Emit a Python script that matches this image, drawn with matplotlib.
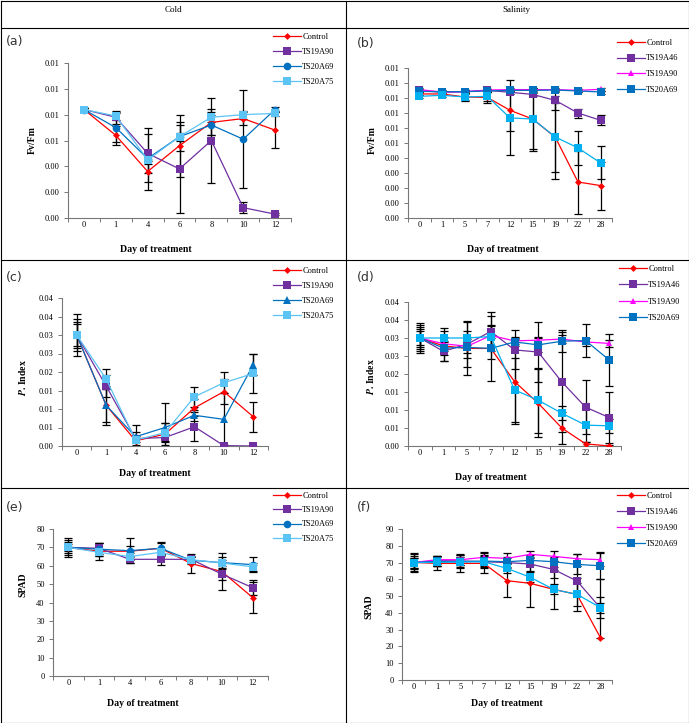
import matplotlib
matplotlib.use("Agg")
import matplotlib.pyplot as plt
from matplotlib.lines import Line2D
import numpy as np

plt.rcParams['font.family'] = ['Liberation Serif', 'DejaVu Serif']
plt.rcParams['mathtext.fontset'] = 'stix'

# ---------------- data ----------------
cold_days = ["0", "1", "4", "6", "8", "10", "12"]
salt_days = ["0", "1", "5", "7", "12", "15", "19", "22", "28"]

cold_names = ["Control", "TS19A90", "TS20A69", "TS20A75"]
salt_names = ["Control", "TS19A46", "TS19A90", "TS20A69", "TS20A75"]

# (a) Fv/Fm, cold
a_control = [0.0084, 0.0064, 0.0036, 0.0056, 0.0074, 0.0077, 0.0068]
a_ts19a90 = [0.0084, 0.0078, 0.0050, 0.0038, 0.0060, 0.0008, 0.0003]
a_ts20a69 = [0.0084, 0.0070, 0.0046, 0.0063, 0.0072, 0.0061, 0.0084]
a_ts20a75 = [0.0084, 0.0079, 0.0045, 0.0063, 0.0078, 0.0080, 0.0081]
a_control_err = [0.0001, 0.00075, 0.0008, 0.0024, 0.0010, 0.0005, 0.0014]
a_ts19a90_err = [0.0001, 0.0005, 0.0015, 0.0034, 0.0033, 0.00045, 0.0001]
a_ts20a69_err = [0.0001, 0.0011, 0.0024, 0.0011, 0.0008, 0.0038, 0.0002]
a_ts20a75_err = [0.0001, 0.0003, 0.0003, 0.0003, 0.0004, 0.0003, 0.0002]

# (b) Fv/Fm, salinity
b_control = [0.00827, 0.00827, 0.00807, 0.00804, 0.00718, 0.0066, 0.00538, 0.0024, 0.00216]
b_ts19a46 = [0.00851, 0.00838, 0.00842, 0.00851, 0.00838, 0.00824, 0.00784, 0.0070, 0.00651]
b_ts19a90 = [0.00856, 0.00840, 0.00842, 0.00853, 0.00856, 0.00856, 0.00856, 0.00851, 0.00858]
b_ts20a69 = [0.00844, 0.00842, 0.00842, 0.00847, 0.00851, 0.00851, 0.00853, 0.00847, 0.00840]
b_ts20a75 = [0.00811, 0.00818, 0.00807, 0.00811, 0.00667, 0.0066, 0.0054, 0.00467, 0.00367]
b_control_err = [0.0001, 0.0001, 0.0003, 0.0004, 0.00136, 0.0021, 0.00275, 0.0021, 0.0016]
b_ts19a46_err = [0.0001, 0.0001, 0.0001, 0.0001, 0.0001, 0.0001, 0.00067, 0.0003, 0.00033]
b_ts19a90_err = [0.0001, 0.0001, 0.0001, 0.0001, 0.0001, 0.0001, 0.0001, 0.0001, 0.0001]
b_ts20a69_err = [0.0001, 0.0001, 0.0001, 0.0001, 0.0001, 0.0001, 0.0001, 0.0001, 0.0001]
b_ts20a75_err = [0.0001, 0.0001, 0.0002, 0.0003, 0.0025, 0.0020, 0.0023, 0.00115, 0.0011]

# (c) P. Index, cold
c_control = [0.030, 0.0110, 0.0014, 0.0032, 0.0103, 0.0147, 0.0079]
c_ts19a90 = [0.030, 0.0162, 0.0020, 0.0023, 0.0052, 0.0001, 0.0000]
c_ts20a69 = [0.030, 0.0110, 0.0025, 0.0050, 0.0083, 0.0072, 0.0220]
c_ts20a75 = [0.030, 0.0181, 0.0016, 0.0036, 0.0133, 0.0171, 0.0196]
c_control_err = [0.0057, 0.0052, 0.0014, 0.0030, 0.0023, 0.0034, 0.0041]
c_ts19a90_err = [0.0043, 0.0030, 0.0018, 0.0010, 0.0039, 0.0001, 0.0001]
c_ts20a69_err = [0.0035, 0.0044, 0.0033, 0.0066, 0.0015, 0.0070, 0.0028]
c_ts20a75_err = [0.0030, 0.0026, 0.0005, 0.0025, 0.0027, 0.0028, 0.0052]

# (d) P. Index, salinity
d_control = [0.030, 0.0278, 0.0271, 0.0271, 0.0179, 0.0119, 0.0050, 0.0006, 0.0000]
d_ts19a46 = [0.030, 0.0263, 0.0283, 0.0318, 0.0267, 0.0261, 0.0178, 0.0108, 0.0079]
d_ts19a90 = [0.030, 0.0284, 0.0277, 0.0307, 0.0292, 0.0294, 0.0297, 0.0289, 0.0285]
d_ts20a69 = [0.030, 0.0272, 0.0274, 0.0271, 0.0289, 0.0281, 0.0291, 0.0293, 0.0239]
d_ts20a75 = [0.030, 0.0300, 0.0300, 0.0304, 0.0156, 0.0127, 0.0091, 0.0058, 0.0056]
d_control_err = [0.0042, 0.0042, 0.0073, 0.0090, 0.0117, 0.0094, 0.0044, 0.0005, 0.0002]
d_ts19a46_err = [0.0035, 0.0027, 0.0063, 0.0053, 0.0054, 0.0084, 0.0140, 0.0076, 0.0070]
d_ts19a90_err = [0.0030, 0.0020, 0.0020, 0.0030, 0.0010, 0.0010, 0.0010, 0.0010, 0.0010]
d_ts20a69_err = [0.0025, 0.0020, 0.0030, 0.0030, 0.0010, 0.0020, 0.0030, 0.0047, 0.0073]
d_ts20a75_err = [0.0020, 0.0028, 0.0020, 0.0030, 0.0088, 0.0090, 0.0020, 0.0046, 0.0020]

# (e) SPAD, cold
e_control = [69.9, 67.9, 67.9, 69.5, 61.2, 56.8, 42.7]
e_ts19a90 = [70.0, 69.5, 63.5, 63.5, 63.5, 55.4, 48.1]
e_ts20a69 = [70.0, 69.0, 68.2, 69.5, 63.0, 61.7, 60.6]
e_ts20a75 = [70.0, 67.3, 65.0, 67.3, 63.3, 61.5, 59.4]
e_control_err = [5.0, 4.5, 3.0, 3.6, 5.3, 10.0, 8.5]
e_ts19a90_err = [4.0, 3.0, 2.0, 3.0, 2.0, 3.0, 4.0]
e_ts20a69_err = [3.0, 3.5, 6.7, 3.0, 2.0, 3.0, 4.0]
e_ts20a75_err = [2.0, 2.0, 2.0, 2.0, 1.5, 1.5, 2.0]

# (f) SPAD, salinity
f_control = [70.1, 69.5, 69.5, 69.5, 59.2, 57.6, 54.0, 51.0, 25.3]
f_ts19a46 = [70.0, 71.1, 71.0, 70.5, 70.0, 69.1, 65.9, 59.0, 43.0]
f_ts19a90 = [70.0, 71.7, 71.7, 73.1, 72.5, 74.9, 73.7, 72.3, 71.7]
f_ts20a69 = [70.0, 70.7, 70.5, 70.9, 70.5, 71.3, 70.5, 68.9, 68.1]
f_ts20a75 = [70.0, 70.1, 70.3, 70.5, 66.5, 61.2, 54.0, 51.0, 43.2]
f_control_err_low = [5.5, 4.0, 5.0, 6.0, 10.0, 14.0, 11.4, 10.0, 0.0]
f_control_err_high = [5.5, 4.0, 5.0, 6.0, 10.0, 14.0, 11.4, 10.0, 35.0]
f_ts19a46_err = [4.0, 3.0, 4.0, 4.0, 3.0, 4.0, 5.0, 9.0, 3.0]
f_ts19a90_err = [3.0, 2.5, 3.0, 3.0, 3.0, 2.0, 3.0, 3.0, 4.0]
f_ts20a69_err = [5.0, 3.0, 3.0, 3.0, 3.0, 3.0, 3.0, 6.0, 8.0]
f_ts20a75_err = [3.0, 2.0, 2.0, 3.0, 3.0, 3.0, 3.0, 7.0, 6.0]

# ---------------- styles ----------------
RED, PURPLE, MAGENTA, DBLUE = "#FF0000", "#7030A0", "#FF00FF", "#0070C0"
LBLUE_COLD, LBLUE_SALT = "#5CC4F5", "#00B0F0"

W, H = 689, 723
fig = plt.figure(figsize=(W / 100, H / 100), dpi=100)


def fx(x):
    return x / W


def fy(y):
    return 1 - y / H


def make_ax(left, top, right, bottom):
    return fig.add_axes([fx(left), fy(bottom), fx(right - left), (bottom - top) / H])


def style(ax, cats, ylim, ystep, fmt):
    n = len(cats)
    ax.set_xlim(-0.5, n - 0.5)
    ax.set_ylim(*ylim)
    ax.set_xticks(range(n))
    ax.set_xticklabels(cats, fontsize=6)
    ax.tick_params(axis='x', which='major', length=0, pad=2.5)
    ax.set_xticks(np.arange(-0.5, n), minor=True)
    ax.tick_params(axis='x', which='minor', length=3, width=0.7, color='#777777', direction='out')
    yt = np.arange(ylim[0], ylim[1] + ystep / 2, ystep)
    ax.set_yticks(yt)
    ax.set_yticklabels([fmt(v) for v in yt], fontsize=6)
    ax.tick_params(axis='y', length=3, width=0.7, color='#777777', pad=3)
    for s in ['top', 'right']:
        ax.spines[s].set_visible(False)
    for s in ['left', 'bottom']:
        ax.spines[s].set_color('#777777')
        ax.spines[s].set_linewidth(0.8)
    ax.set_facecolor('none')


def plot_series(ax, vals, err, color, marker, ms, label):
    x = np.arange(len(vals))
    ax.errorbar(x, vals, yerr=err, fmt='none', ecolor='black', elinewidth=0.9,
                capsize=2.6, capthick=0.9, zorder=2, clip_on=True)
    ax.plot(x, vals, color=color, marker=marker, markersize=ms, linewidth=0.9,
            markeredgewidth=0, zorder=3, label=label)


def legend(ax, x_left, y_top, nitems, spacing):
    h, l = ax.get_legend_handles_labels()
    h, l = h[:nitems], l[:nitems]
    fig.legend(h, l, loc='upper left', bbox_to_anchor=(fx(x_left), fy(y_top)),
               frameon=False, fontsize=6, handlelength=3.4, handletextpad=0.1,
               labelspacing=spacing, borderpad=0, borderaxespad=0)


fmt2 = lambda v: f"{v:.2f}"
fmt0 = lambda v: f"{v:.0f}"

# (a)
ax = make_ax(68, 63, 291, 218)
style(ax, cold_days, (0, 0.012), 0.002, fmt2)
plot_series(ax, a_control, a_control_err, RED, 'D', 3.5, cold_names[0])
plot_series(ax, a_ts19a90, a_ts19a90_err, PURPLE, 's', 5.5, cold_names[1])
plot_series(ax, a_ts20a69, a_ts20a69_err, DBLUE, 'o', 5.5, cold_names[2])
plot_series(ax, a_ts20a75, a_ts20a75_err, LBLUE_COLD, 's', 5.5, cold_names[3])
legend(ax, 273, 33, 4, 0.85)

# (b)
ax = make_ax(408, 68, 612, 218)
style(ax, salt_days, (0, 0.010), 0.001, fmt2)
plot_series(ax, b_control, b_control_err, RED, 'D', 3.5, salt_names[0])
plot_series(ax, b_ts19a46, b_ts19a46_err, PURPLE, 's', 5.5, salt_names[1])
plot_series(ax, b_ts19a90, b_ts19a90_err, MAGENTA, '^', 5, salt_names[2])
plot_series(ax, b_ts20a69, b_ts20a69_err, DBLUE, 's', 5.5, salt_names[3])
plot_series(ax, b_ts20a75, b_ts20a75_err, LBLUE_SALT, 's', 5.5, None)
legend(ax, 617, 39, 4, 0.9)

# (c)
ax = make_ax(62, 298, 268, 446)
style(ax, cold_days, (0, 0.04), 0.005, fmt2)
plot_series(ax, c_control, c_control_err, RED, 'D', 3.5, cold_names[0])
plot_series(ax, c_ts19a90, c_ts19a90_err, PURPLE, 's', 5.5, cold_names[1])
plot_series(ax, c_ts20a69, c_ts20a69_err, DBLUE, '^', 5.5, cold_names[2])
plot_series(ax, c_ts20a75, c_ts20a75_err, LBLUE_COLD, 's', 5.5, cold_names[3])
legend(ax, 273, 267, 4, 0.85)

# (d)
ax = make_ax(408, 302, 621, 446)
style(ax, salt_days, (0, 0.04), 0.005, fmt2)
plot_series(ax, d_control, d_control_err, RED, 'D', 3.5, salt_names[0])
plot_series(ax, d_ts19a46, d_ts19a46_err, PURPLE, 's', 5.5, salt_names[1])
plot_series(ax, d_ts19a90, d_ts19a90_err, MAGENTA, '^', 5, salt_names[2])
plot_series(ax, d_ts20a69, d_ts20a69_err, DBLUE, 's', 5.5, salt_names[3])
plot_series(ax, d_ts20a75, d_ts20a75_err, LBLUE_SALT, 's', 5.5, None)
legend(ax, 619, 265, 4, 1.0)

# (e)
ax = make_ax(53, 529, 268, 676)
style(ax, cold_days, (0, 80), 10, fmt0)
plot_series(ax, e_control, e_control_err, RED, 'D', 3.5, cold_names[0])
plot_series(ax, e_ts19a90, e_ts19a90_err, PURPLE, 's', 5.5, cold_names[1])
plot_series(ax, e_ts20a69, e_ts20a69_err, DBLUE, 'o', 5.5, cold_names[2])
plot_series(ax, e_ts20a75, e_ts20a75_err, LBLUE_COLD, 's', 5.5, cold_names[3])
legend(ax, 273, 492, 4, 0.75)

# (f)
ax = make_ax(402, 529, 612, 680)
style(ax, salt_days, (0, 90), 10, fmt0)
plot_series(ax, f_control, [f_control_err_low, f_control_err_high], RED, 'D', 3.5, salt_names[0])
plot_series(ax, f_ts19a46, f_ts19a46_err, PURPLE, 's', 5.5, salt_names[1])
plot_series(ax, f_ts19a90, f_ts19a90_err, MAGENTA, '^', 5, salt_names[2])
plot_series(ax, f_ts20a69, f_ts20a69_err, DBLUE, 's', 5.5, salt_names[3])
plot_series(ax, f_ts20a75, f_ts20a75_err, LBLUE_SALT, 's', 5.5, None)
legend(ax, 617, 492, 4, 0.95)

# ---------------- labels ----------------
lab_kw = dict(fontsize=7, fontweight='bold', ha='center', va='center')
for x, y in [(156, 249), (503, 249), (155, 474), (491, 477), (143, 704), (507, 704)]:
    fig.text(fx(x), fy(y), "Day of treatment", **lab_kw)

fig.text(fx(32), fy(140), "Fv/Fm", rotation=90, **lab_kw)
fig.text(fx(372), fy(140), "Fv/Fm", rotation=90, **lab_kw)
fig.text(fx(23), fy(378), r"$\mathbfit{P}$. Index", rotation=90, **lab_kw)
fig.text(fx(370), fy(377), r"$\mathbfit{P}$. Index", rotation=90, **lab_kw)
fig.text(fx(23), fy(585), "SPAD", rotation=90, **lab_kw)
fig.text(fx(369), fy(607), "SPAD", rotation=90, **lab_kw)

for t, x, y in [("(a)", 6, 42), ("(b)", 357, 43), ("(c)", 6, 277), ("(d)", 357, 277),
                ("(e)", 6, 507), ("(f)", 357, 507)]:
    fig.text(fx(x), fy(y), t, fontsize=9, family='DejaVu Sans', color='#333333',
             ha='left', va='center')

fig.text(fx(173), fy(10), "Cold", fontsize=6.5, ha='center', va='center')
fig.text(fx(516), fy(10), "Salinity", fontsize=6.5, ha='center', va='center')

# ---------------- table borders ----------------
def hline(y, x0=0.5, x1=688.5):
    fig.add_artist(Line2D([fx(x0), fx(x1)], [fy(y), fy(y)], color='black', linewidth=0.8))


def vline(x, y0=0.5, y1=722.5):
    fig.add_artist(Line2D([fx(x), fx(x)], [fy(y0), fy(y1)], color='black', linewidth=0.8))

for y in [0.5, 28, 260, 488, 722.5]:
    hline(y)
for x in [0.5, 346, 688.5]:
    vline(x)

fig.savefig("out.png", dpi=100)
